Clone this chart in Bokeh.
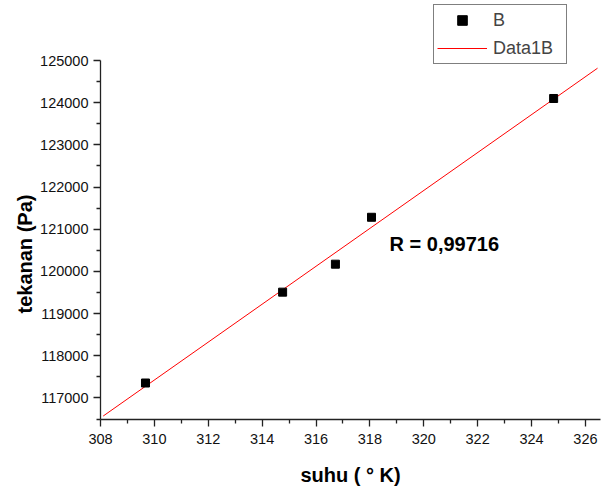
from bokeh.plotting import figure
from bokeh.models import FixedTicker, Legend, LegendItem, Label, Range1d, BasicTickFormatter, Title
from bokeh.embed import file_html
from bokeh.resources import INLINE

# data
suhu = [309.67, 314.76, 316.72, 318.06, 324.82]
tekanan = [117355, 119509, 120172, 121284, 124100]
fit_x = [308.1, 326.45]
fit_y = [116572, 124818]
x_ticks = [308, 310, 312, 314, 316, 318, 320, 322, 324, 326]
x_minor = [309, 311, 313, 315, 317, 319, 321, 323, 325]
y_ticks = [117000, 118000, 119000, 120000, 121000, 122000, 123000, 124000, 125000]
y_minor = [116500, 117500, 118500, 119500, 120500, 121500, 122500, 123500, 124500]
r_text = "R = 0,99716"
x_title = "suhu ( \u00b0 K)"
y_title = "tekanan (Pa)"

FONT = "Liberation Sans"

p = figure(width=603, height=490, output_backend="svg", toolbar_location=None,
           x_range=Range1d(308, 326.56), y_range=Range1d(116490, 126423),
           min_border_left=100, min_border_right=3, min_border_top=0, min_border_bottom=71)
p.outline_line_color = None
p.background_fill_color = "white"
p.border_fill_color = "white"
p.xgrid.visible = False
p.ygrid.visible = False

p.xaxis.ticker = FixedTicker(ticks=x_ticks, minor_ticks=x_minor)
p.yaxis.ticker = FixedTicker(ticks=y_ticks, minor_ticks=y_minor)
p.yaxis.formatter = BasicTickFormatter(use_scientific=False)
p.yaxis.bounds = (116490, 125000)
for ax in (p.xaxis[0], p.yaxis[0]):
    ax.axis_line_color = "#222222"
    ax.axis_line_width = 1.3
    ax.major_tick_line_color = "#222222"
    ax.minor_tick_line_color = "#222222"
    ax.major_tick_line_width = 1.3
    ax.minor_tick_line_width = 1.3
    ax.major_tick_out = 7
    ax.major_tick_in = 0
    ax.minor_tick_out = 4
    ax.minor_tick_in = 0
    ax.major_label_text_font = FONT
    ax.major_label_text_font_size = "14.5px"
    ax.major_label_text_color = "#111111"
    ax.axis_label_text_font = FONT
    ax.axis_label_text_font_style = "bold"
    ax.axis_label_text_font_size = "20px"
    ax.axis_label_text_color = "#000000"
p.xaxis.axis_label = x_title
p.xaxis.major_label_standoff = 7
p.yaxis.major_label_standoff = 5
p.xaxis.axis_label_standoff = 17

ytitle = Title(text=y_title, align="left", offset=106, text_font=FONT, text_font_style="bold",
               text_font_size="20px", text_color="black", standoff=4)
p.add_layout(ytitle, "left")

line = p.line(fit_x, fit_y, line_color="red", line_width=1)
pts = p.scatter(suhu, tekanan, marker="square", size=8, fill_color="black", line_color="black")

p.add_layout(Label(x=318.73, y=120645, text=r_text, text_font=FONT, text_font_style="bold",
                   text_font_size="20px", text_baseline="alphabetic", text_color="black"))

legend = Legend(items=[LegendItem(label="B", renderers=[pts]),
                       LegendItem(label="Data1B", renderers=[line])],
                location=(333, 355), orientation="vertical",
                border_line_color="black", border_line_width=1,
                background_fill_color="white", background_fill_alpha=1,
                label_text_font=FONT, label_text_font_size="18px",
                glyph_width=50, glyph_height=24, label_height=24, label_width=70,
                label_standoff=6, spacing=4, padding=3, margin=0)
p.add_layout(legend, "center")

open("out.html", "w").write(file_html(p, INLINE))
